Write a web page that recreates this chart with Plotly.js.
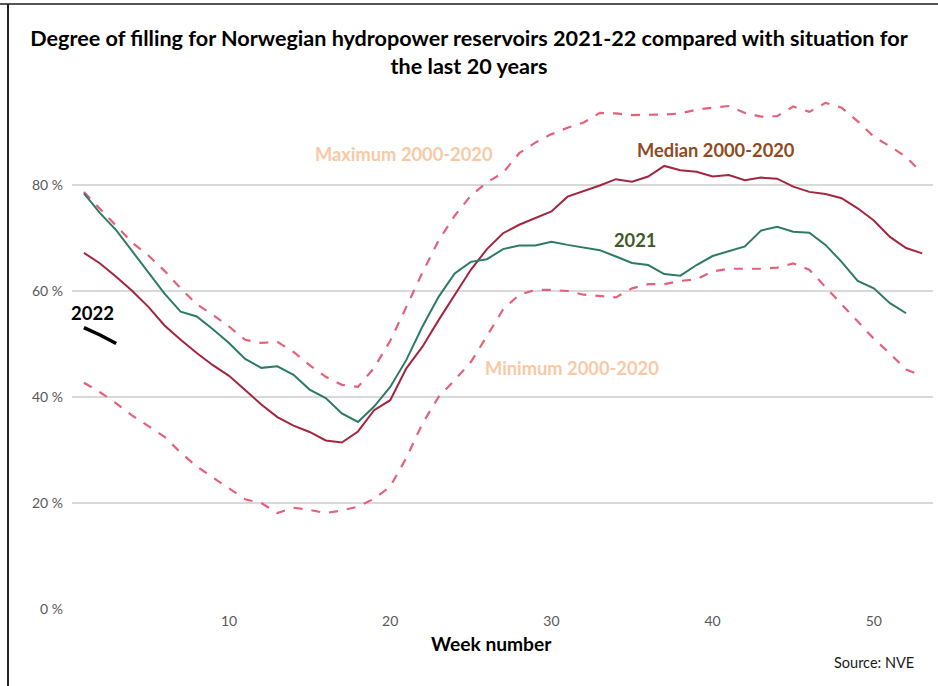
<!DOCTYPE html>
<html>
<head>
<meta charset="utf-8">
<script src="https://cdn.plot.ly/plotly-3.0.1.min.js"></script>
<style>
html,body{margin:0;padding:0;background:#fff;}
#chart{width:938px;height:686px;}
</style>
</head>
<body>
<div id="chart"></div>
<script>
var weeks = [];
for (var i = 1; i <= 53; i++) weeks.push(i);
var weeks2021 = weeks.slice(0, 52);
var weeks2022 = [1, 2, 3];

var maxValues = [78.7,75.5,72.3,69.1,66.7,63.8,60.5,57.5,55.5,53.3,
  50.8,50.2,50.4,48.5,46.0,43.8,42.3,41.9,45.5,50.6,
  57.0,63.5,69.5,74.2,78.0,80.5,82.3,86.0,88.0,89.6,
  90.8,91.8,93.6,93.5,93.2,93.2,93.3,93.5,94.2,94.6,
  94.9,93.6,92.9,93.0,94.8,93.8,95.5,94.6,92.0,89.1,
  87.3,85.3,82.2];
var medianValues = [67.2,65.2,62.7,60.0,57.0,53.5,50.8,48.3,46.0,44.0,
  41.3,38.6,36.2,34.6,33.4,31.8,31.4,33.5,37.5,39.4,
  45.4,49.5,54.5,59.3,64.0,67.9,70.9,72.5,73.7,75.0,
  77.8,78.8,79.9,81.1,80.6,81.6,83.6,82.8,82.5,81.6,
  81.9,80.9,81.4,81.2,79.7,78.7,78.3,77.5,75.6,73.3,
  70.2,68.1,67.1];
var minValues = [42.7,40.9,38.8,36.5,34.5,32.5,29.5,26.9,24.8,22.8,
  20.7,20.0,18.1,19.1,18.7,18.1,18.6,19.3,20.8,23.1,
  28.5,35.0,40.0,43.2,46.6,51.5,56.5,59.3,60.2,60.2,
  60.0,59.3,59.0,58.8,60.5,61.3,61.3,61.9,62.2,63.7,
  64.2,64.2,64.2,64.4,65.2,64.0,60.8,57.4,54.2,51.0,
  48.2,45.2,44.0];
var values2021 = [78.4,74.7,71.5,67.5,63.5,59.5,56.1,55.2,52.8,50.2,
  47.2,45.5,45.8,44.2,41.4,39.8,36.9,35.3,38.2,41.9,
  47.0,53.3,58.9,63.3,65.5,66.0,67.9,68.6,68.6,69.3,
  68.7,68.2,67.7,66.5,65.3,64.9,63.2,62.9,64.9,66.6,
  67.5,68.4,71.4,72.1,71.2,71.0,68.7,65.5,61.9,60.5,
  57.7,55.8];
var values2022 = [53.1, 51.7, 50.1];

var yTicks = [0, 20, 40, 60, 80];
var yTickText = ['0 %', '20 %', '40 %', '60 %', '80 %'];
var xTicks = [10, 20, 30, 40, 50];
var xTickText = ['10', '20', '30', '40', '50'];

var font = 'Lato, "Open Sans", sans-serif';

var traces = [
  {x: weeks, y: maxValues, mode: 'lines', name: 'Maximum 2000-2020',
   line: {color: '#e5607a', width: 2.2, dash: 'dash'}},
  {x: weeks, y: minValues, mode: 'lines', name: 'Minimum 2000-2020',
   line: {color: '#e5607a', width: 2.2, dash: 'dash'}},
  {x: weeks, y: medianValues, mode: 'lines', name: 'Median 2000-2020',
   line: {color: '#a3253f', width: 2}},
  {x: weeks2021, y: values2021, mode: 'lines', name: '2021',
   line: {color: '#2e7a68', width: 2}},
  {x: weeks2022, y: values2022, mode: 'lines', name: '2022',
   line: {color: '#000000', width: 3.5}}
];

var layout = {
  width: 938, height: 686,
  margin: {l: 72, r: 5, t: 79, b: 77},
  paper_bgcolor: '#ffffff', plot_bgcolor: '#ffffff',
  showlegend: false,
  font: {family: font, color: '#595959', size: 14},
  title: {
    text: '<b>Degree of filling for Norwegian hydropower reservoirs 2021-22 compared with situation for<br>the last 20 years</b>',
    font: {family: font, size: 21.6, color: '#000000'},
    x: 0.5, xanchor: 'center', y: 0.933, yanchor: 'middle'
  },
  xaxis: {
    range: [0.26, 53.67], tickvals: xTicks, ticktext: xTickText,
    showgrid: false, zeroline: false, showline: false, ticks: '',
    tickfont: {family: font, size: 14, color: '#595959'}, ticklabelstandoff: 2
  },
  yaxis: {
    range: [0, 100], tickvals: yTicks, ticktext: yTickText,
    showgrid: true, gridcolor: '#d9d9d9', gridwidth: 1.5,
    zeroline: false, showline: false, ticks: '',
    tickfont: {family: font, size: 14, color: '#595959'}, ticklabelstandoff: 8
  },
  annotations: [
    {x: 20.85, y: 85.8, text: '<b>Maximum 2000-2020</b>', showarrow: false,
     font: {family: font, size: 18.3, color: '#f9c9a6'}},
    {x: 40.2, y: 86.6, text: '<b>Median 2000-2020</b>', showarrow: false,
     font: {family: font, size: 18.3, color: '#8e4b22'}},
    {x: 35.2, y: 69.6, text: '<b>2021</b>', showarrow: false,
     font: {family: font, size: 18.3, color: '#3f5a2a'}},
    {x: 31.3, y: 45.5, text: '<b>Minimum 2000-2020</b>', showarrow: false,
     font: {family: font, size: 18.3, color: '#f9c9a6'}},
    {x: 1.56, y: 55.8, text: '<b>2022</b>', showarrow: false,
     font: {family: font, size: 18.5, color: '#000000'}},
    {xref: 'paper', yref: 'paper', x: (491 - 72) / 861, y: (609 - 643) / 530,
     text: '<b>Week number</b>', showarrow: false, xanchor: 'center', yanchor: 'middle',
     font: {family: font, size: 19.2, color: '#000000'}},
    {xref: 'paper', yref: 'paper', x: (874 - 72) / 861, y: (609 - 662) / 530,
     text: 'Source: NVE', showarrow: false, xanchor: 'center', yanchor: 'middle',
     font: {family: font, size: 14.5, color: '#1a1a1a'}}
  ],
  shapes: [
    {type: 'line', xref: 'paper', yref: 'paper',
     x0: (0 - 72) / 861, x1: (938 - 72) / 861, y0: (609 - 4) / 530, y1: (609 - 4) / 530,
     line: {color: '#555555', width: 2}},
    {type: 'line', xref: 'paper', yref: 'paper',
     x0: (8 - 72) / 861, x1: (8 - 72) / 861, y0: (609 - 4) / 530, y1: (609 - 690) / 530,
     line: {color: '#222222', width: 2}}
  ]
};

Plotly.newPlot('chart', traces, layout, {displayModeBar: false, staticPlot: true});
</script>
</body>
</html>
